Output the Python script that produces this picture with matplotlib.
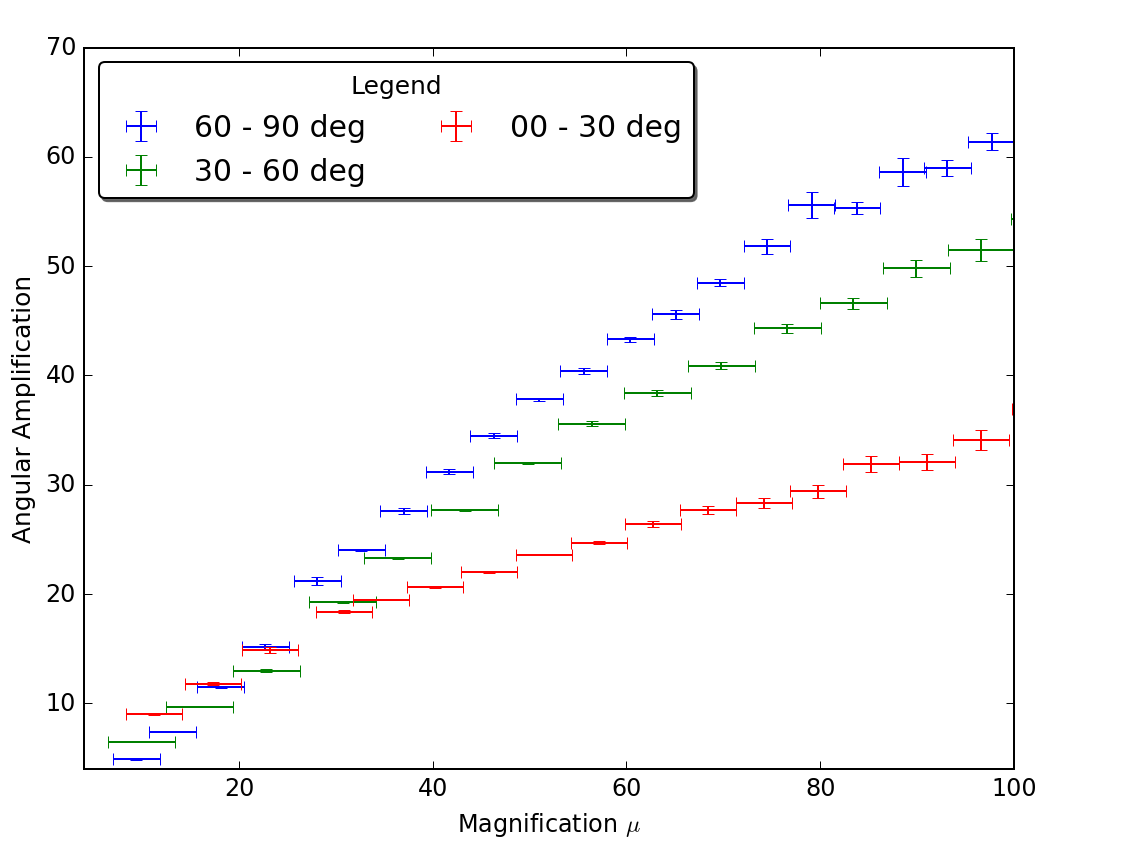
import matplotlib
matplotlib.use('Agg')
import matplotlib.pyplot as plt

plt.style.use('classic')

# 60 - 90 deg bins
blue_x = [9.4, 13.1, 18.1, 22.7, 28.1, 32.6, 37.0, 41.7, 46.3, 51.0,
          55.6, 60.4, 65.1, 69.7, 74.5, 79.1, 83.8, 88.5, 93.1, 97.7]
blue_y = [4.9, 7.4, 11.5, 15.2, 21.2, 24.0, 27.6, 31.2, 34.5, 37.8,
          40.4, 43.3, 45.6, 48.5, 51.8, 55.6, 55.3, 58.6, 59.0, 61.4]
blue_yerr = [0.05, 0.05, 0.1, 0.25, 0.35, 0.1, 0.3, 0.25, 0.2, 0.15,
             0.3, 0.2, 0.4, 0.35, 0.7, 1.2, 0.55, 1.25, 0.75, 0.75]
blue_xerr = 2.42

# 30 - 60 deg bins
green_x = [9.9, 15.9, 22.8, 30.7, 36.4, 43.3, 49.8, 56.4, 63.2, 69.8,
           76.6, 83.4, 89.9, 96.6, 103.1]
green_y = [6.5, 9.7, 13.0, 19.3, 23.3, 27.7, 32.0, 35.6, 38.4, 40.9,
           44.3, 46.6, 49.8, 51.5, 54.3]
green_yerr = [0.05, 0.05, 0.1, 0.1, 0.1, 0.1, 0.1, 0.2, 0.25, 0.35,
              0.45, 0.5, 0.8, 1.0, 0.5]
green_xerr = 3.45

# 00 - 30 deg bins
red_x = [11.2, 17.3, 23.2, 30.8, 34.7, 40.2, 45.8, 51.5, 57.2, 62.7,
         68.4, 74.2, 79.8, 85.2, 91.0, 96.6, 102.7]
red_y = [9.0, 11.8, 14.9, 18.4, 19.5, 20.6, 22.0, 23.6, 24.7, 26.4,
         27.7, 28.3, 29.4, 31.9, 32.1, 34.1, 36.9]
red_yerr = [0.05, 0.15, 0.25, 0.1, 0.05, 0.05, 0.1, 0.05, 0.15, 0.3,
            0.35, 0.45, 0.6, 0.7, 0.75, 0.95, 0.3]
red_xerr = 2.9

fig = plt.figure(figsize=(8, 6), dpi=143.25)
ax = fig.add_axes([0.0733, 0.1048, 0.8115, 0.8393])

ax.errorbar(blue_x, blue_y, xerr=blue_xerr, yerr=blue_yerr, fmt='none',
            ecolor='b', label='60 - 90 deg')
ax.errorbar(green_x, green_y, xerr=green_xerr, yerr=green_yerr, fmt='none',
            ecolor='g', label='30 - 60 deg')
ax.errorbar(red_x, red_y, xerr=red_xerr, yerr=red_yerr, fmt='none',
            ecolor='r', label='00 - 30 deg')

ax.set_xlim(4, 100)
ax.set_ylim(4, 70)
ax.set_xticks([20, 40, 60, 80, 100])
ax.set_yticks([10, 20, 30, 40, 50, 60, 70])
ax.set_xlabel(r'Magnification $\mu$')
ax.set_ylabel('Angular Amplification', fontsize=12.5)

ax.legend(loc='upper left', ncol=2, title='Legend', numpoints=1,
          fontsize=15, title_fontsize=12.5, fancybox=True,
          shadow={'ox': 1.5, 'oy': -1.5, 'color': '0.35', 'alpha': 0.9})

fig.savefig('out.png', dpi=143.25)
